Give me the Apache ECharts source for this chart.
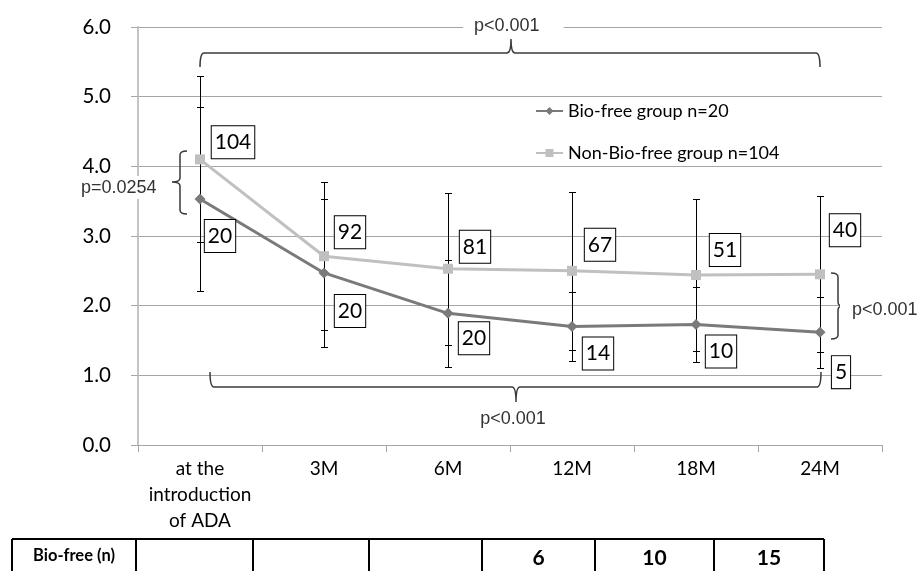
<!DOCTYPE html>
<html>
<head>
<meta charset="utf-8">
<script src="https://cdn.jsdelivr.net/npm/echarts@6/dist/echarts.min.js"></script>
<style>
  html, body { margin: 0; padding: 0; background: #fff; }
  #chart { width: 918px; height: 571px; }
</style>
</head>
<body>
<div id="chart"></div>
<script>
// Time points after adalimumab introduction
const categories = ['at the\nintroduction\nof ADA', '3M', '6M', '12M', '18M', '24M'];

// Mean score and SD per group
const bioFreeMean = [3.53, 2.47, 1.89, 1.70, 1.73, 1.62];
const bioFreeSD = [1.32, 1.06, 0.77, 0.49, 0.54, 0.51];
const nonBioFreeMean = [4.10, 2.71, 2.53, 2.50, 2.44, 2.45];
const nonBioFreeSD = [1.19, 1.06, 1.09, 1.13, 1.09, 1.12];

// Patients at each time point
const bioFreeN = [20, 20, 20, 14, 10, 5];
const nonBioFreeN = [104, 92, 81, 67, 51, 40];

// Bio-free table row
const tableTitle = 'Bio-free (n)';
const tableCounts = ['', '', '', '6', '10', '15'];

// Y axis ticks
const yTicks = [0, 1, 2, 3, 4, 5, 6];

const seriesNames = ['Bio-free group n=20', 'Non-Bio-free group n=104'];

// Label placement (pixel offsets from each point)
const bioLabelOffset = [[20, 37], [26, 38], [26, 25], [26, 27], [25, 27], [21, 40]];
const nonBioLabelOffset = [[33, -17], [26, -24], [27, -22], [28, -26], [29, -25], [25, -44]];

const chart = echarts.init(document.getElementById('chart'), null, { renderer: 'canvas' });

const labelBox = {
  show: true,
  position: 'inside',
  fontFamily: 'Lato',
  fontSize: 21,
  color: '#000',
  backgroundColor: '#fff',
  borderColor: '#000',
  borderWidth: 1,
  padding: [4, 3, 3, 3],
  lineHeight: 25
};

function lineData(means, counts, offsets) {
  return means.map((v, i) => ({
    value: v,
    label: Object.assign({}, labelBox, {
      offset: offsets[i],
      formatter: String(counts[i])
    })
  }));
}

function errData(means, sds) {
  return means.map((m, i) => [i, +(m - sds[i]).toFixed(2), +(m + sds[i]).toFixed(2)]);
}

function renderErr(params, api) {
  const lo = api.coord([api.value(0), api.value(1)]);
  const hi = api.coord([api.value(0), api.value(2)]);
  const x = Math.round(lo[0]) + 0.5;
  const yl = Math.round(lo[1]) + 0.5;
  const yh = Math.round(hi[1]) + 0.5;
  const st = { stroke: '#000', lineWidth: 1 };
  return {
    type: 'group',
    children: [
      { type: 'line', shape: { x1: x, y1: yl, x2: x, y2: yh }, style: st },
      { type: 'line', shape: { x1: x - 3.5, y1: yl, x2: x + 3.5, y2: yl }, style: st },
      { type: 'line', shape: { x1: x - 3.5, y1: yh, x2: x + 3.5, y2: yh }, style: st }
    ]
  };
}

// Curly brace paths
function hBrace(x1, x2, y, xm, h, t) {
  const r = 4;
  return `M${x1},${y + h} Q${x1},${y} ${x1 + r},${y} L${xm - r},${y} Q${xm},${y} ${xm},${y - t} ` +
         `M${xm},${y - t} Q${xm},${y} ${xm + r},${y} L${x2 - r},${y} Q${x2},${y} ${x2},${y + h}`;
}
function vBrace(y1, y2, x, ym, w, t) {
  const r = 4;
  const s = Math.sign(y2 - y1);
  return `M${x + w},${y1} Q${x},${y1} ${x},${y1 + r * s} L${x},${ym - r * s} Q${x},${ym} ${x - t},${ym} ` +
         `M${x - t},${ym} Q${x},${ym} ${x},${ym + r * s} L${x},${y2 - r * s} Q${x},${y2} ${x + w},${y2}`;
}

const braceStyle = { stroke: '#3a3a3a', lineWidth: 1.5, fill: null };

// Significance braces drawn as one custom item
function renderBraces() {
  const paths = [
    hBrace(200, 820, 53, 511, 14, 14),    // baseline vs 24M, both groups
    hBrace(210, 821, 387, 516, -15, -15), // lower bracket
    vBrace(151, 214, 180, 182, 7, 8),     // baseline difference
    vBrace(273, 339, 838, 306, -7, -5)    // 24M difference
  ];
  return {
    type: 'group',
    children: paths.map(d => ({ type: 'path', shape: { pathData: d }, style: braceStyle }))
  };
}

const pText = { fontFamily: 'Liberation Sans', fontSize: 18, fill: '#333', backgroundColor: '#fff' };

// Table cell boundaries
const tableCols = [12, 136, 253, 369, 482, 595, 714, 824];
const tableTop = 539;

const tableGraphics = [];
tableGraphics.push({
  type: 'line', shape: { x1: tableCols[0], y1: tableTop, x2: tableCols[tableCols.length - 1], y2: tableTop },
  style: { stroke: '#000', lineWidth: 2 }
});
tableCols.forEach(x => {
  tableGraphics.push({
    type: 'line', shape: { x1: x, y1: tableTop, x2: x, y2: 580 },
    style: { stroke: '#000', lineWidth: 2 }
  });
});
tableGraphics.push({
  type: 'text', x: (tableCols[0] + tableCols[1]) / 2, y: 556,
  style: { text: tableTitle, fontFamily: 'Lato', fontWeight: 'bold', fontSize: 16.5, fill: '#000', align: 'center', verticalAlign: 'middle' }
});
tableCounts.forEach((c, i) => {
  if (!c) return;
  tableGraphics.push({
    type: 'text', x: (tableCols[i + 1] + tableCols[i + 2]) / 2, y: 558,
    style: { text: c, fontFamily: 'Lato', fontWeight: 'bold', fontSize: 21, fill: '#000', align: 'center', verticalAlign: 'middle' }
  });
});

const option = {
  animation: false,
  backgroundColor: '#fff',
  grid: { left: 138, right: 36, top: 27, bottom: 126, containLabel: false },
  legend: {
    orient: 'vertical',
    left: 530,
    top: 95,
    itemWidth: 27,
    itemHeight: 10,
    itemGap: 20,
    textStyle: { fontFamily: 'Lato', fontSize: 18, color: '#000', lineHeight: 22 },
    data: seriesNames
  },
  xAxis: {
    type: 'category',
    data: categories,
    boundaryGap: true,
    axisLine: { lineStyle: { color: '#a6a6a6', width: 1 } },
    axisTick: { show: true, length: 7, lineStyle: { color: '#a6a6a6' } },
    axisLabel: { fontFamily: 'Lato', fontSize: 19, color: '#000', lineHeight: 26, margin: 11, interval: 0 },
    splitLine: { show: false }
  },
  yAxis: {
    type: 'value',
    min: yTicks[0],
    max: yTicks[yTicks.length - 1],
    interval: 1,
    axisLine: { show: true, lineStyle: { color: '#c4c4c4', width: 2 } },
    axisTick: { show: true, length: 7, lineStyle: { color: '#a6a6a6' } },
    axisLabel: { fontFamily: 'Lato', fontSize: 20.5, color: '#000', margin: 27, formatter: v => v.toFixed(1) },
    splitLine: { show: true, lineStyle: { color: '#a6a6a6', width: 1 } }
  },
  series: [
    {
      type: 'custom',
      name: 'bioErr',
      renderItem: renderErr,
      data: errData(bioFreeMean, bioFreeSD),
      encode: { x: 0, y: [1, 2] },
      z: 2,
      silent: true
    },
    {
      type: 'custom',
      name: 'nonBioErr',
      renderItem: renderErr,
      data: errData(nonBioFreeMean, nonBioFreeSD),
      encode: { x: 0, y: [1, 2] },
      z: 2,
      silent: true
    },
    {
      type: 'line',
      name: seriesNames[1],
      data: lineData(nonBioFreeMean, nonBioFreeN, nonBioLabelOffset),
      symbol: 'rect',
      symbolSize: 10,
      lineStyle: { color: '#c0c0c0', width: 3 },
      itemStyle: { color: '#c0c0c0' },
      z: 3
    },
    {
      type: 'line',
      name: seriesNames[0],
      data: lineData(bioFreeMean, bioFreeN, bioLabelOffset),
      symbol: 'diamond',
      symbolSize: 11,
      lineStyle: { color: '#7a7a7a', width: 3 },
      itemStyle: { color: '#7a7a7a' },
      z: 4
    },
    {
      type: 'custom',
      name: 'braces',
      renderItem: renderBraces,
      data: [[0, 0]],
      z: 10,
      silent: true
    }
  ],
  graphic: [
    { type: 'text', x: 463, y: 16, z: 11,
      style: Object.assign({}, pText, { text: 'p<0.001', padding: [1, 24, 1, 11] }) },
    { type: 'text', x: 513, y: 419, z: 11,
      style: Object.assign({}, pText, { text: 'p<0.001', align: 'center', verticalAlign: 'middle' }) },
    { type: 'text', x: 80, y: 176, z: 11,
      style: Object.assign({}, pText, { text: 'p=0.0254', padding: [3, 2, 2, 1] }) },
    { type: 'text', x: 840, y: 300, z: 11,
      style: Object.assign({}, pText, { text: 'p<0.001', padding: [1, 10, 1, 12] }) }
  ].concat(tableGraphics)
};

chart.setOption(option);
</script>
</body>
</html>
